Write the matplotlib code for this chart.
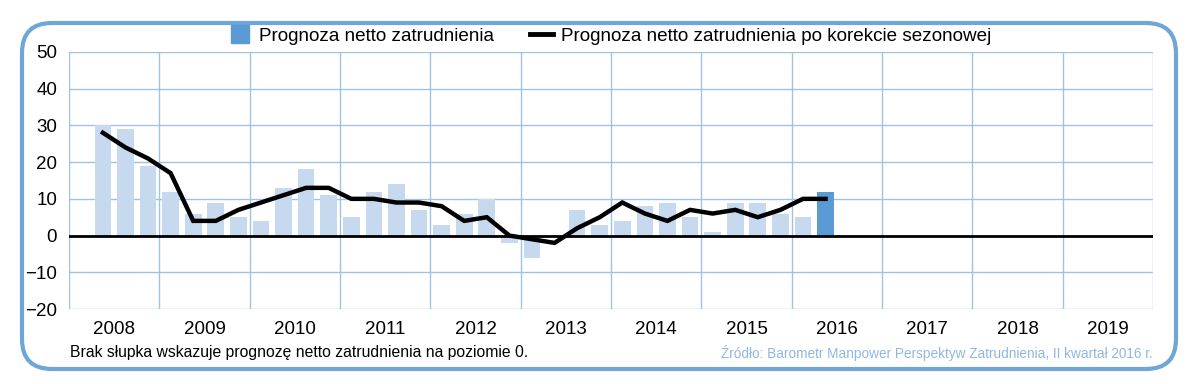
import matplotlib
matplotlib.use("Agg")
import matplotlib.pyplot as plt
from matplotlib.patches import FancyBboxPatch
from matplotlib.lines import Line2D
import numpy as np

plt.rcParams['font.family'] = ['Liberation Sans', 'DejaVu Sans']

# data: quarterly, from Q2 2008 to Q2 2016
start_year = 2008
start_quarter = 2
years = list(range(2008, 2020))
bar_values = [30, 29, 19,
              12, 6, 9, 5,
              4, 13, 18, 11,
              5, 12, 14, 7,
              3, 6, 10, -2,
              -6, 0, 7, 3,
              4, 8, 9, 5,
              1, 9, 9, 6,
              5, 12]
line_values = [28, 24, 21,
               17, 4, 4, 7,
               9, 11, 13, 13,
               10, 10, 9, 9,
               8, 4, 5, 0,
               -1, -2, 2, 5,
               9, 6, 4, 7,
               6, 7, 5, 7,
               10, 10]
y_ticks = [-20, -10, 0, 10, 20, 30, 40, 50]

light_blue = '#c6d9ee'
dark_blue = '#5b9bd5'
grid_blue = '#9fc2e4'
frame_blue = '#6ea6d8'

W, H = 1190, 384

# x position of each quarter (centre of the quarter within the year)
n = len(bar_values)
idx = np.arange(n) + (start_quarter - 1)
x = start_year + (idx + 0.5) / 4.0

fig = plt.figure(figsize=(W / 100, H / 100), dpi=100)

# rounded frame drawn in pixel coordinates on a background axes
bg = fig.add_axes([0, 0, 1, 1])
bg.set_xlim(0, W)
bg.set_ylim(H, 0)
bg.axis('off')
bg.add_patch(FancyBboxPatch((22, 23), 1176 - 22, 369 - 23,
                            boxstyle='round,pad=0,rounding_size=30',
                            facecolor='none', edgecolor=frame_blue, linewidth=3))

ax = fig.add_axes([69 / W, 1 - 309 / H, (1153 - 69) / W, (309 - 52) / H])

colors = [light_blue] * (n - 1) + [dark_blue]
ax.bar(x, bar_values, width=0.185, color=colors, zorder=2)
ax.plot(x, line_values, color='black', linewidth=3.2, zorder=4,
        solid_joinstyle='miter')
ax.axhline(0, color='black', linewidth=2, zorder=3)

ax.set_xlim(years[0], years[-1] + 1)
ax.set_ylim(y_ticks[0], y_ticks[-1])
ax.set_yticks(y_ticks)
ax.set_xticks(years + [years[-1] + 1])
ax.set_xticklabels([])
ax.set_xticks([yr + 0.5 for yr in years], minor=True)
ax.set_xticklabels([str(yr) for yr in years], minor=True)
ax.tick_params(axis='both', which='both', length=0, labelsize=13.5)
ax.tick_params(axis='x', which='minor', pad=9)
ax.tick_params(axis='y', pad=8.5)
ax.grid(True, which='major', color=grid_blue, linewidth=1, zorder=0)
ax.set_axisbelow(True)
for s in ax.spines.values():
    s.set_visible(False)

handles = [Line2D([], [], marker='s', markersize=13.5, linestyle='none',
                  color=dark_blue),
           Line2D([], [], color='black', linewidth=3.5)]
labels = ['Prognoza netto zatrudnienia',
          'Prognoza netto zatrudnienia po korekcie sezonowej']
fig.legend(handles, labels, loc='center', bbox_to_anchor=(610 / W, 1 - 36 / H),
           ncol=2, frameon=False, fontsize=13.6, handlelength=1.2,
           columnspacing=1.9, handletextpad=0.45, borderpad=0)

fig.text(70 / W, 1 - 353 / H,
         'Brak słupka wskazuje prognozę netto zatrudnienia na poziomie 0.',
         fontsize=11.3, va='center', ha='left')
fig.text(1153 / W, 1 - 353 / H,
         'Źródło: Barometr Manpower Perspektyw Zatrudnienia, II kwartał 2016 r.',
         fontsize=9.8, va='center', ha='right', color='#8fb8e0')

fig.savefig('out.png', dpi=100)
